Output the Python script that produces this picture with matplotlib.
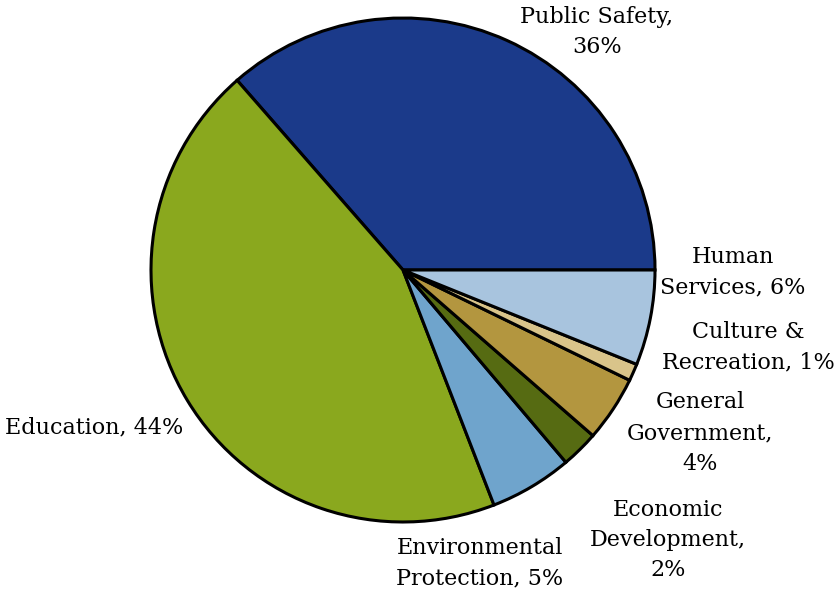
import matplotlib.pyplot as plt

# budget shares by function, percent
categories = ["Public Safety", "Education", "Environmental\nProtection",
              "Economic\nDevelopment", "General\nGovernment",
              "Culture &\nRecreation", "Human\nServices"]
shares = [36.4, 44.4, 5.3, 2.4, 4.2, 1.1, 6.1]
colors = ["#1b3a8a", "#8aa81e", "#6fa4cc", "#566b12", "#b3963f", "#d9c48a", "#a8c4de"]

# label text and where it sits (pixels from top-left)
label_fmt = ["{name},\n{pct}", "{name}, {pct}", "{name}, {pct}", "{name},\n{pct}",
             "{name},\n{pct}", "{name}, {pct}", "{name}, {pct}"]
label_pos = [(597, 32), (94, 427), (480, 563), (668, 540), (700, 433), (748, 347), (733, 272)]

W, H = 835, 590
cx, cy, r = 403, 270, 252

fig = plt.figure(figsize=(W / 100, H / 100), dpi=100)
ax = fig.add_axes([0, 0, 1, 1])
ax.pie(shares, colors=colors, startangle=0, counterclock=True, radius=r,
       center=(cx, H - cy),
       wedgeprops=dict(edgecolor="black", linewidth=2.2))
ax.set_xlim(0, W)
ax.set_ylim(0, H)
ax.set_aspect("equal")
ax.axis("off")

for name, v, fmt, (px, py) in zip(categories, shares, label_fmt, label_pos):
    txt = fmt.format(name=name, pct="{:.0f}%".format(v))
    ax.text(px, H - py, txt, ha="center", va="center", fontsize=16,
            family="DejaVu Serif", linespacing=1.5)

fig.savefig("out.png", dpi=100)
